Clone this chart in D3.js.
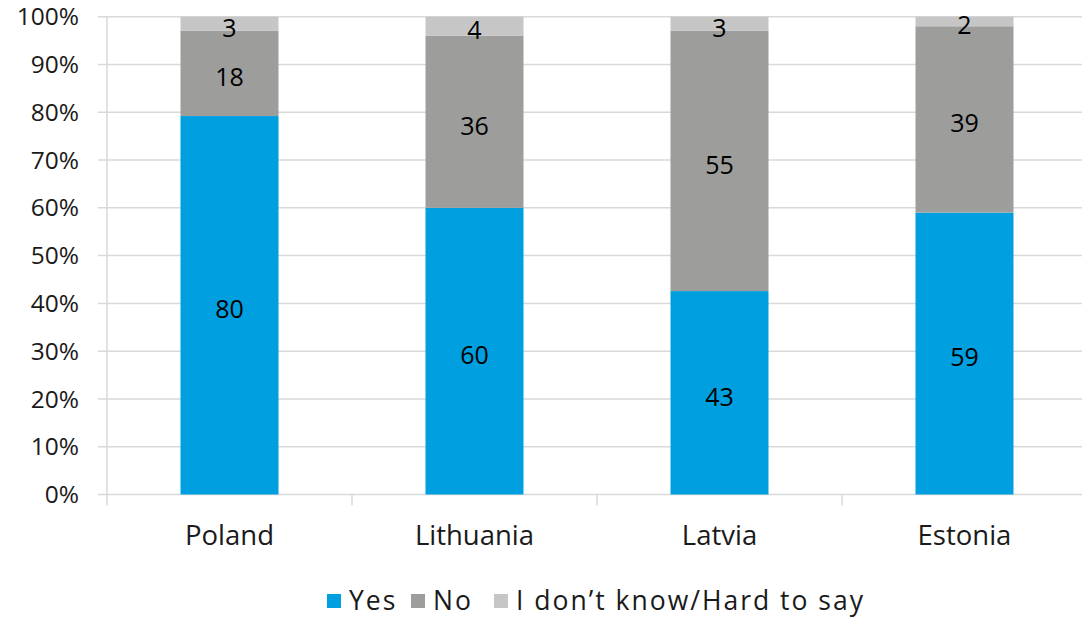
<!DOCTYPE html>
<html><head><meta charset="utf-8">
<script src="https://cdn.jsdelivr.net/npm/d3@7"></script>
<style>body{margin:0;background:#fff}svg{display:block}text{font-family:"Open Sans",sans-serif}</style>
</head><body>
<script>
const categories = ["Poland","Lithuania","Latvia","Estonia"];
const seriesNames = ["Yes","No","I don\u2019t know/Hard to say"];
const yesValues = [80,60,43,59];
const noValues = [18,36,55,39];
const dkValues = [3,4,3,2];
const yTicks = [0,10,20,30,40,50,60,70,80,90,100];
const colors = ["#009fe0","#9d9d9c","#c6c6c6"];

const W=1082,H=618;
const svg=d3.select("body").append("svg").attr("width",W).attr("height",H);
const x0=107, x1=107+4*245, yTop=16.7, yBot=494.5;
const x=d3.scaleBand().domain(categories).range([x0,x1]).paddingInner(0.6).paddingOuter(0.3);
const xb=d3.scaleBand().domain(categories).range([x0,x1]);
const y=d3.scaleLinear().domain([0,100]).range([yBot,yTop]);

// gridlines
svg.append("g").selectAll("line").data(yTicks).join("line")
  .attr("x1",98).attr("x2",W).attr("y1",d=>y(d)).attr("y2",d=>y(d))
  .attr("stroke","#d9d9d9").attr("stroke-width",1.5);
// y labels
svg.append("g").selectAll("text").data(yTicks).join("text")
  .attr("x",79).attr("y",d=>y(d)).attr("dy","0.35em").attr("text-anchor","end")
  .attr("font-size",24.5).attr("fill","#1a1a1a").text(d=>d+"%");
// vertical axis
svg.append("line").attr("x1",x0).attr("x2",x0).attr("y1",yTop).attr("y2",yBot+11).attr("stroke","#d9d9d9").attr("stroke-width",1.5);
// bottom ticks
svg.append("g").selectAll("line").data(categories.slice(1)).join("line")
  .attr("x1",d=>xb(d)).attr("x2",d=>xb(d)).attr("y1",yBot).attr("y2",yBot+11)
  .attr("stroke","#d9d9d9").attr("stroke-width",1.5);

const rows=categories.map((c,i)=>({cat:c,Yes:yesValues[i],No:noValues[i],DK:dkValues[i]}));
const keys=["Yes","No","DK"];
const stack=d3.stack().keys(keys).offset(d3.stackOffsetExpand);
const stacked=stack(rows);

stacked.forEach((s,si)=>{
  const g=svg.append("g");
  g.selectAll("rect").data(s).join("rect")
    .attr("x",d=>x(d.data.cat)).attr("width",x.bandwidth())
    .attr("y",d=>y(d[1]*100)).attr("height",d=>y(d[0]*100)-y(d[1]*100))
    .attr("fill",colors[si]);
  g.selectAll("text").data(s).join("text")
    .attr("x",d=>x(d.data.cat)+x.bandwidth()/2)
    .attr("y",d=>(y(d[0]*100)+y(d[1]*100))/2+4)
    .attr("dy","0.35em").attr("text-anchor","middle").attr("font-size",25).attr("fill","#000")
    .text(d=>d.data[keys[si]]);
});

// category labels
svg.append("g").selectAll("text").data(categories).join("text")
  .attr("x",d=>x(d)+x.bandwidth()/2).attr("y",535).attr("dy","0.35em").attr("text-anchor","middle")
  .attr("font-size",27.5).attr("fill","#1a1a1a").text(d=>d);

// legend
const legX=[327,411,494];
const lg=svg.append("g");
seriesNames.forEach((n,i)=>{
  lg.append("rect").attr("x",legX[i]).attr("y",594).attr("width",14).attr("height",14).attr("fill",colors[i]);
  lg.append("text").attr("x",legX[i]+22).attr("y",601).attr("dy","0.35em").attr("font-size",26.5)
    .attr("letter-spacing","2px").attr("fill","#1a1a1a").text(n);
});
</script>
</body></html>
